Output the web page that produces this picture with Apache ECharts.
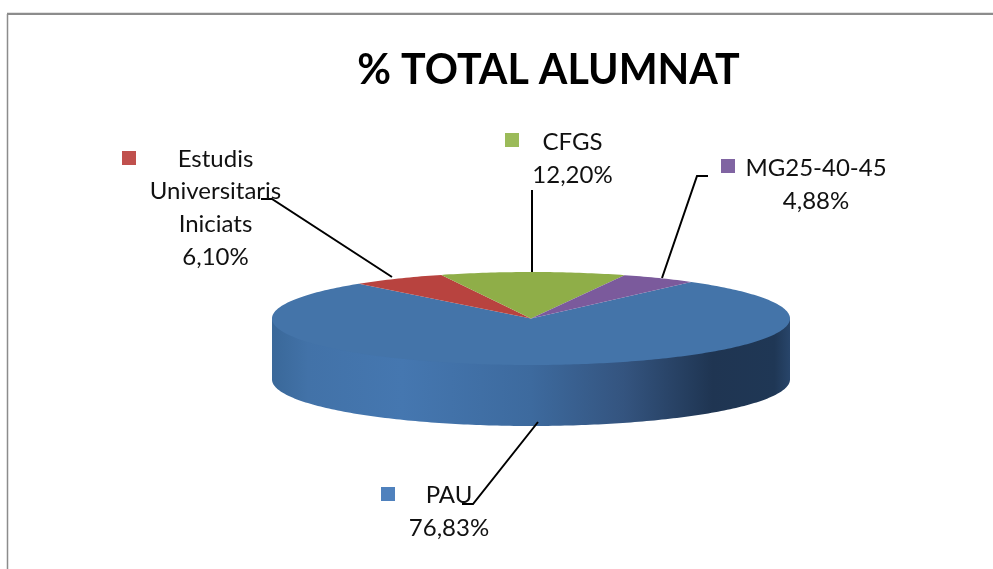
<!DOCTYPE html>
<html>
<head>
<meta charset="utf-8">
<style>
  html, body { margin: 0; padding: 0; background: #fff; }
  #chart { width: 993px; height: 569px; }
</style>
<script src="https://cdn.jsdelivr.net/npm/echarts@6/dist/echarts.min.js"></script>
</head>
<body>
<div id="chart"></div>
<script>
const categories = ['PAU', 'Estudis\nUniversitaris\nIniciats', 'CFGS', 'MG25-40-45']
const percents = [76.83, 6.10, 12.20, 4.88]
const percentLabels = ['76,83%', '6,10%', '12,20%', '4,88%']

const topColors = ['#4474a9', '#b8433f', '#8fae48', '#7b5a9c']
const keyColors = ['#4f81bd', '#c0504d', '#9bbb59', '#8064a2']

// where the labels sit: text centre, key square, leader polyline
const labelLayout = [
  { x: 449, y: 512, key: [381, 487], leader: [[462, 504], [473, 504], [538, 422]] },
  { x: 215.5, y: 208, key: [122, 151], leader: [[261, 199], [272, 199], [392, 277]] },
  { x: 572.5, y: 158.5, key: [505, 133], leader: [[532, 190], [532, 272]] },
  { x: 816, y: 184.5, key: [721, 159], leader: [[708, 176], [697, 176], [662, 278]] }
]

const pie = { cx: 531, cy: 318.5, rx: 259, ry: 46.5, depth: 61, startAngle: 40, warp: 1.8 }
const FONT = 'Lato, Carlito, Calibri, sans-serif'

function point(deg, dy) {
  // small angle warp, the reference squeezes the back and front of the tilted disc
  const d = deg - pie.warp * Math.sin(2 * deg * Math.PI / 180)
  const a = d * Math.PI / 180
  return [pie.cx + pie.rx * Math.sin(a), pie.cy - pie.ry * Math.cos(a) + (dy || 0)]
}

function arcPoints(from, to, dy) {
  const pts = []
  const n = Math.max(2, Math.ceil(Math.abs(to - from)))
  for (let i = 0; i <= n; i++) {
    pts.push(point(from + (to - from) * i / n, dy))
  }
  return pts
}

function renderSlice(params, api) {
  const i = params.dataIndex
  const total = percents.reduce((s, v) => s + v, 0)
  let before = 0
  for (let k = 0; k < i; k++) before += percents[k]
  const from = pie.startAngle + before / total * 360
  const to = from + api.value(0) / total * 360
  const children = []

  // the visible rim is the front half of the ellipse, 90..270 clockwise from the top
  const sideFrom = Math.max(from, 90)
  const sideTo = Math.min(to, 270)
  if (sideTo > sideFrom) {
    // upper edge runs a bit under the top face so no seam shows
    const side = arcPoints(sideFrom, sideTo, -3).concat(arcPoints(sideTo, sideFrom, pie.depth))
    children.push({
      type: 'polygon',
      shape: { points: side },
      style: {
        fill: new echarts.graphic.LinearGradient(0, 0, 1, 0, [
          { offset: 0, color: '#3a6899' },
          { offset: 0.07, color: '#4272a8' },
          { offset: 0.25, color: '#4577b0' },
          { offset: 0.5, color: '#3d6a9e' },
          { offset: 0.68, color: '#34547f' },
          { offset: 0.85, color: '#1f3552' },
          { offset: 0.97, color: '#1f3755' },
          { offset: 1, color: '#28456a' }
        ])
      }
    })
  }

  children.push({
    type: 'polygon',
    shape: { points: [[pie.cx, pie.cy]].concat(arcPoints(from, to, 0)) },
    style: { fill: topColors[i] }
  })

  const l = labelLayout[i]
  children.push({
    type: 'polyline',
    shape: { points: l.leader },
    style: { stroke: '#000', lineWidth: 2, fill: null }
  })
  children.push({
    type: 'rect',
    shape: { x: l.key[0], y: l.key[1], width: 14, height: 14 },
    style: { fill: keyColors[i] }
  })
  children.push({
    type: 'text',
    x: l.x,
    y: l.y,
    style: {
      text: categories[i] + '\n' + percentLabels[i],
      fontFamily: FONT,
      fontSize: 24,
      lineHeight: 32.7,
      fill: '#111',
      align: 'center',
      verticalAlign: 'middle'
    }
  })
  return { type: 'group', children }
}

const chart = echarts.init(document.getElementById('chart'), null, { renderer: 'canvas' })
chart.setOption({
  animation: false,
  backgroundColor: '#fff',
  title: {
    text: '% TOTAL ALUMNAT',
    left: 543.5,
    top: 45,
    textAlign: 'center',
    textStyle: { fontFamily: FONT, fontSize: 41.2, fontWeight: 'bold', color: '#000' }
  },
  graphic: [
    { type: 'line', shape: { x1: 7, y1: 12.5, x2: 993, y2: 12.5 }, style: { stroke: '#e2e2e2', lineWidth: 1 } },
    { type: 'line', shape: { x1: 7, y1: 14, x2: 993, y2: 14 }, style: { stroke: '#8c8c8c', lineWidth: 2 } },
    { type: 'line', shape: { x1: 7.5, y1: 14, x2: 7.5, y2: 569 }, style: { stroke: '#8c8c8c', lineWidth: 1.5 } }
  ],
  series: [{
    type: 'custom',
    coordinateSystem: 'none',
    renderItem: renderSlice,
    data: percents.map(v => [v])
  }]
})
</script>
</body>
</html>
